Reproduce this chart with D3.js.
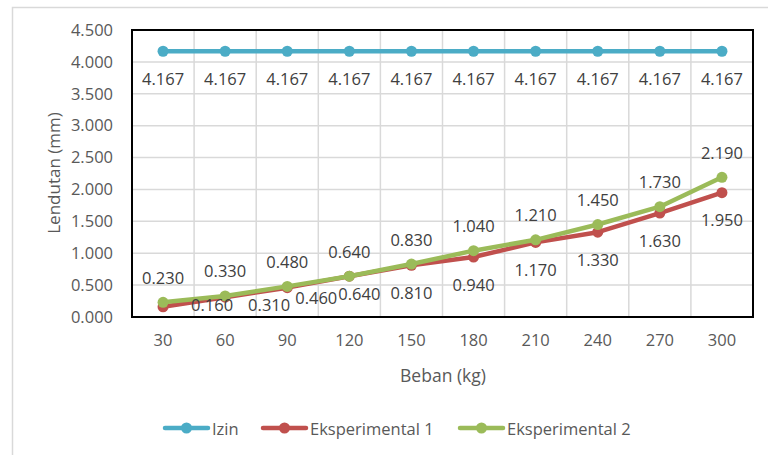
<!DOCTYPE html>
<html>
<head>
<meta charset="utf-8">
<script src="https://cdn.jsdelivr.net/npm/d3@7"></script>
<style>
  html, body { margin: 0; padding: 0; background: #fff; }
  svg { display: block; font-family: "Open Sans", sans-serif; }
</style>
</head>
<body>
<svg id="chart" width="768" height="455"></svg>
<script>
// Load (kg) on the x axis
const categories = ["30", "60", "90", "120", "150", "180", "210", "240", "270", "300"];
// Deflection (mm)
const izin = [4.167, 4.167, 4.167, 4.167, 4.167, 4.167, 4.167, 4.167, 4.167, 4.167];
const eksperimental1 = [0.160, 0.310, 0.460, 0.640, 0.810, 0.940, 1.170, 1.330, 1.630, 1.950];
const eksperimental2 = [0.230, 0.330, 0.480, 0.640, 0.830, 1.040, 1.210, 1.450, 1.730, 2.190];
const yTicks = [0, 0.5, 1, 1.5, 2, 2.5, 3, 3.5, 4, 4.5];
const seriesNames = ["Izin", "Eksperimental 1", "Eksperimental 2"];

// label placement nudges for the first series-1 labels (pixels)
const exp1LabelNudge = [[49, -2], [44, 7], [29, 10], [10, 17]];

const colors = ["#4BACC6", "#C0504D", "#9BBB59"];
const svg = d3.select("#chart");
const plot = { left: 132, right: 753, top: 30, bottom: 317 };
const labelSize = "16.5px";

const x = d3.scaleBand().domain(categories).range([plot.left, plot.right]).padding(0);
const y = d3.scaleLinear().domain([0, 4.5]).range([plot.bottom, plot.top]);
const cx = c => x(c) + x.bandwidth() / 2;

// outer chart frame
svg.append("rect").attr("x", 12.5).attr("y", 7.5).attr("width", 800).attr("height", 500)
  .attr("fill", "#fff").attr("stroke", "#d9d9d9").attr("stroke-width", 1.5);

// gridlines
const grid = svg.append("g").attr("stroke", "#d9d9d9").attr("stroke-width", 1.5);
grid.selectAll("line.h").data(yTicks).join("line")
  .attr("x1", plot.left).attr("x2", plot.right)
  .attr("y1", d => y(d)).attr("y2", d => y(d));
grid.selectAll("line.v").data(categories.slice(1)).join("line")
  .attr("x1", d => x(d)).attr("x2", d => x(d))
  .attr("y1", plot.top).attr("y2", plot.bottom);

// plot-area border
svg.append("rect").attr("x", plot.left).attr("y", plot.top)
  .attr("width", plot.right - plot.left).attr("height", plot.bottom - plot.top)
  .attr("fill", "none").attr("stroke", "#000").attr("stroke-width", 2);

// y axis
const yAxis = svg.append("g").attr("transform", `translate(${plot.left},0)`)
  .call(d3.axisLeft(y).tickValues(yTicks).tickFormat(d3.format(".3f")).tickSize(0).tickPadding(19));
yAxis.select(".domain").remove();
yAxis.selectAll("text").attr("fill", "#595959").style("font-size", labelSize)
  .style("font-family", "Open Sans, sans-serif");

// x axis
const xAxis = svg.append("g").attr("transform", `translate(0,${plot.bottom})`)
  .call(d3.axisBottom(x).tickSize(0).tickPadding(17));
xAxis.select(".domain").remove();
xAxis.selectAll("text").attr("fill", "#595959").style("font-size", labelSize)
  .style("font-family", "Open Sans, sans-serif");

// axis titles
svg.append("text").attr("transform", `translate(53,173) rotate(-90)`)
  .attr("text-anchor", "middle").attr("dominant-baseline", "central")
  .attr("fill", "#595959").style("font-size", "17px").text("Lendutan (mm)");
svg.append("text").attr("x", 443).attr("y", 375)
  .attr("text-anchor", "middle").attr("dominant-baseline", "central")
  .attr("fill", "#595959").style("font-size", "17.5px").text("Beban (kg)");

// series lines and markers
const allSeries = [izin, eksperimental1, eksperimental2];
const line = d3.line().x((d, i) => cx(categories[i])).y(d => y(d));
allSeries.forEach((vals, si) => {
  const g = svg.append("g");
  g.append("path").datum(vals).attr("d", line)
    .attr("fill", "none").attr("stroke", colors[si]).attr("stroke-width", 4.5)
    .attr("stroke-linejoin", "round").attr("stroke-linecap", "round");
  g.selectAll("circle").data(vals).join("circle")
    .attr("cx", (d, i) => cx(categories[i])).attr("cy", d => y(d))
    .attr("r", 5.5).attr("fill", colors[si]);
});

// data labels
const fmt = d3.format(".3f");
const labels = svg.append("g").attr("fill", "#404040").style("font-size", labelSize)
  .attr("text-anchor", "middle").attr("dominant-baseline", "central");
labels.selectAll("text.izin").data(izin).join("text")
  .attr("x", (d, i) => cx(categories[i])).attr("y", d => y(d) + 27).text(fmt);
labels.selectAll("text.e1").data(eksperimental1).join("text")
  .attr("x", (d, i) => cx(categories[i]) + (exp1LabelNudge[i] ? exp1LabelNudge[i][0] : 0))
  .attr("y", (d, i) => y(d) + (exp1LabelNudge[i] ? exp1LabelNudge[i][1] : 27)).text(fmt);
labels.selectAll("text.e2").data(eksperimental2).join("text")
  .attr("x", (d, i) => cx(categories[i])).attr("y", d => y(d) - 25).text(fmt);

// legend
const legendX = [165, 263, 460];
const legend = svg.append("g").attr("transform", "translate(0,428)");
seriesNames.forEach((name, i) => {
  const g = legend.append("g").attr("transform", `translate(${legendX[i]},0)`);
  g.append("line").attr("x1", 0).attr("x2", 43).attr("y1", 0).attr("y2", 0)
    .attr("stroke", colors[i]).attr("stroke-width", 4.5).attr("stroke-linecap", "round");
  g.append("circle").attr("cx", 21.5).attr("cy", 0).attr("r", 5.5).attr("fill", colors[i]);
  g.append("text").attr("x", 47).attr("y", 0).attr("dominant-baseline", "central")
    .attr("fill", "#595959").style("font-size", labelSize).text(name);
});
</script>
</body>
</html>
